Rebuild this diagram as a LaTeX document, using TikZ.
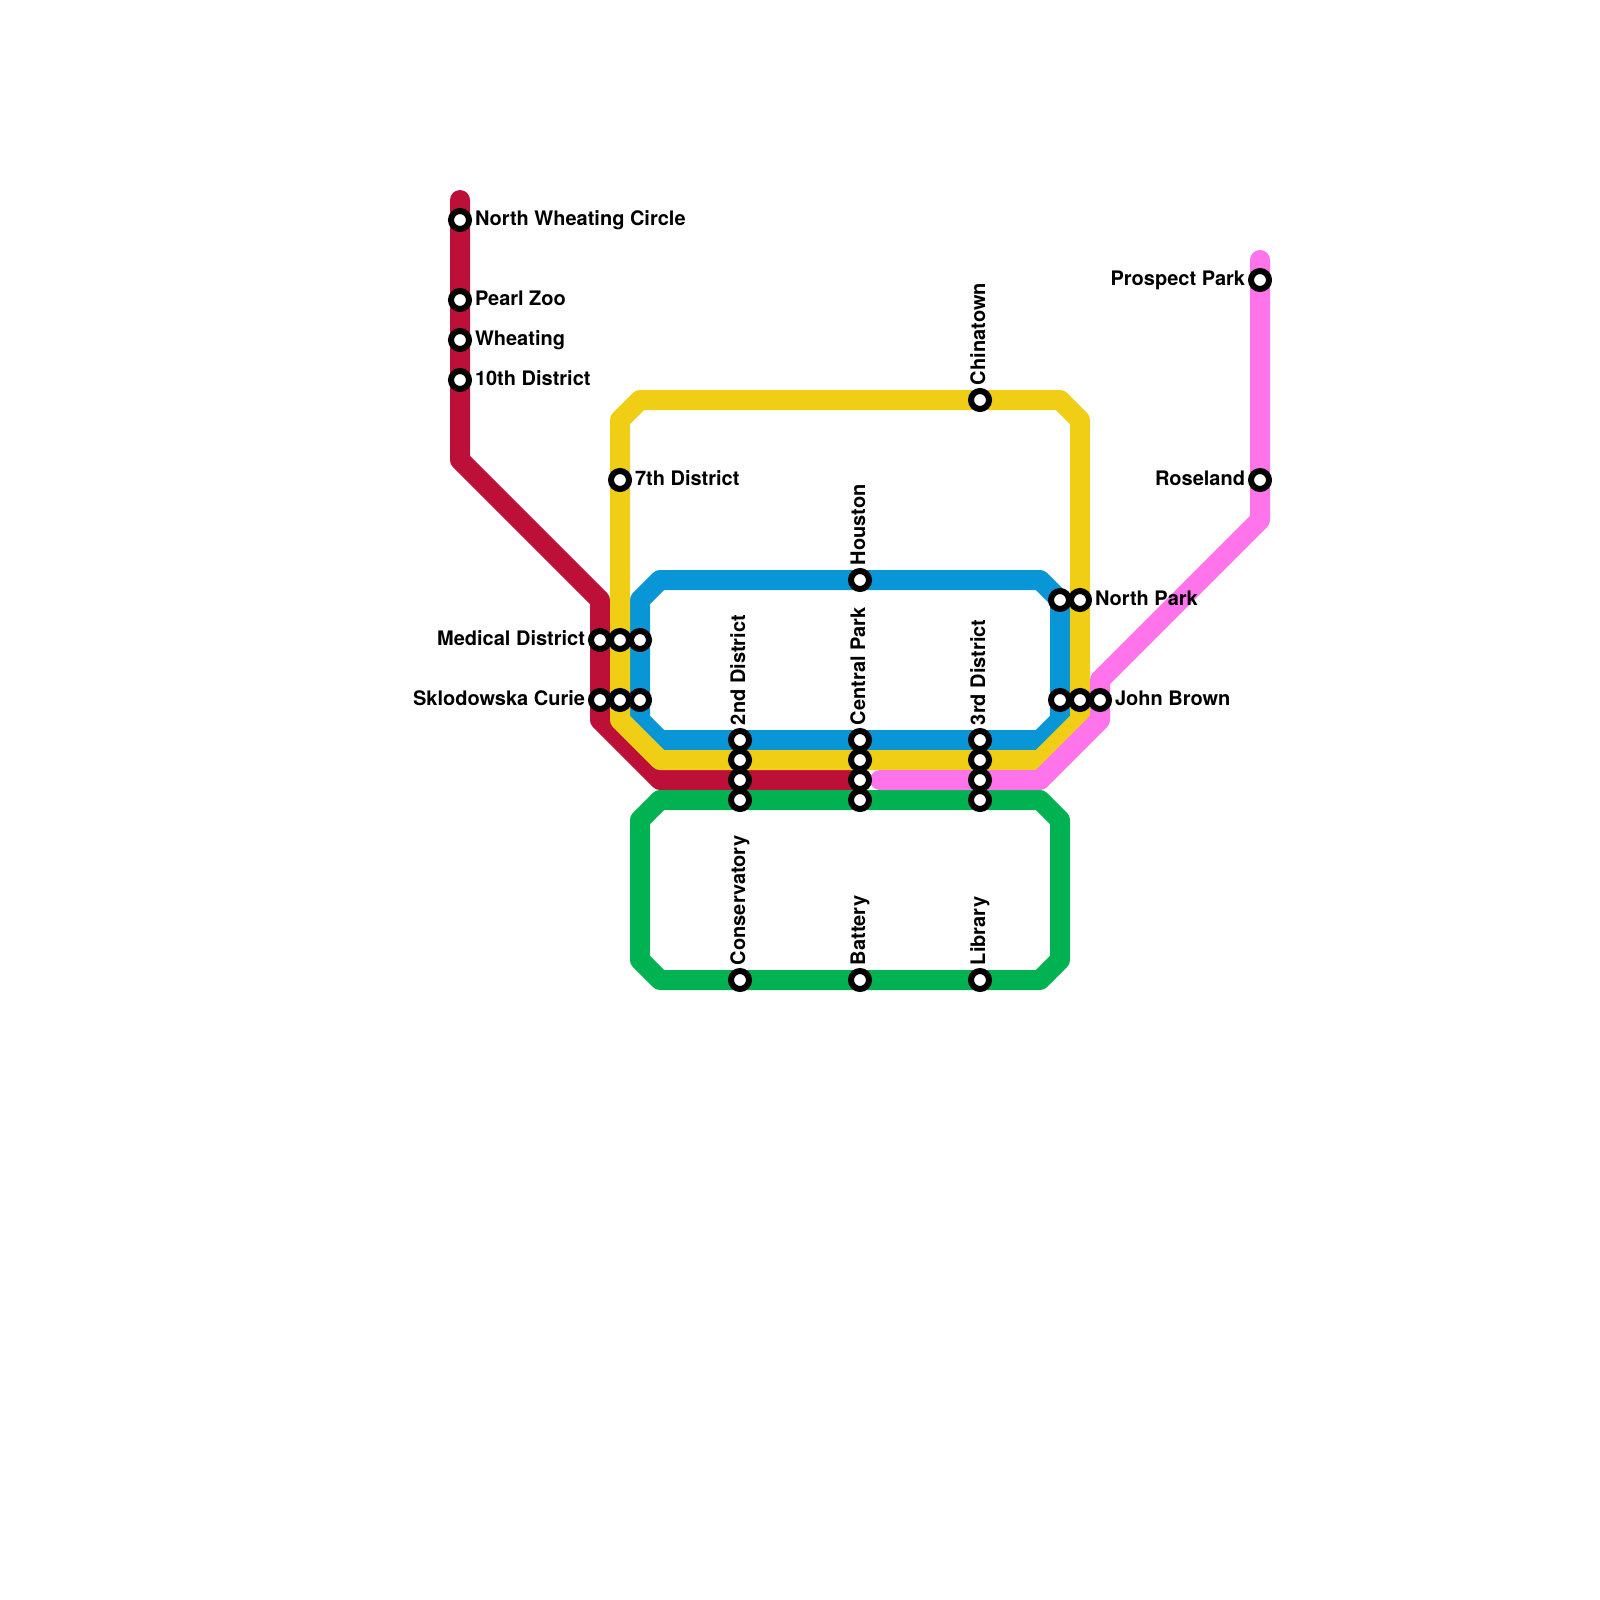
\documentclass[tikz,border=0pt]{standalone}
\usepackage{fontspec}
\setmainfont{TeX Gyre Heros}
\usetikzlibrary{backgrounds}
\definecolor{lnred}{HTML}{BD1038}
\definecolor{lnyellow}{HTML}{F0CE15}
\definecolor{lnblue}{HTML}{0896D7}
\definecolor{lnpink}{HTML}{FF73EB}
\definecolor{lngreen}{HTML}{00B251}
\tikzset{
  metro/.style={line width=10pt,line join=round,line cap=round},
  stn/.style={circle,draw=black,fill=white,line width=3pt,minimum size=9pt,inner sep=0pt,outer sep=0pt},
  lbl/.style={font=\fontsize{10}{12}\selectfont\bfseries,text=black,inner sep=0pt,outer sep=0pt},
  lblr/.style={lbl,anchor=base west},
  lbll/.style={lbl,anchor=base east},
  lblv/.style={lbl,anchor=base west,rotate=90}
}
\begin{document}
\begin{tikzpicture}[x=0.5pt,y=-0.5pt]
\useasboundingbox (0,0) rectangle (1600,1600);
% stations
\node[stn] (nwc) at (460,220) {};
\node[stn] (pearl) at (460,300) {};
\node[stn] (wheat) at (460,340) {};
\node[stn] (d10) at (460,380) {};
\node[stn] (d7) at (620,480) {};
\node[stn] (medr) at (600,640) {};
\node[stn] (medy) at (620,640) {};
\node[stn] (medb) at (640,640) {};
\node[stn] (skr) at (600,700) {};
\node[stn] (sky) at (620,700) {};
\node[stn] (skb) at (640,700) {};
\node[stn] (d2b) at (740,740) {};
\node[stn] (d2y) at (740,760) {};
\node[stn] (d2r) at (740,780) {};
\node[stn] (d2g) at (740,800) {};
\node[stn] (cpb) at (860,740) {};
\node[stn] (cpy) at (860,760) {};
\node[stn] (cpr) at (860,780) {};
\node[stn] (cpg) at (860,800) {};
\node[stn] (d3b) at (980,740) {};
\node[stn] (d3y) at (980,760) {};
\node[stn] (d3p) at (980,780) {};
\node[stn] (d3g) at (980,800) {};
\node[stn] (china) at (980,400) {};
\node[stn] (houst) at (860,580) {};
\node[stn] (npb) at (1060,600) {};
\node[stn] (npy) at (1080,600) {};
\node[stn] (jbb) at (1060,700) {};
\node[stn] (jby) at (1080,700) {};
\node[stn] (jbp) at (1100,700) {};
\node[stn] (cons) at (740,980) {};
\node[stn] (batt) at (860,980) {};
\node[stn] (lib) at (980,980) {};
\node[stn] (prosp) at (1260,280) {};
\node[stn] (rose) at (1260,480) {};
% labels
\node[lblr] (tnwc) at (475,225) {North Wheating Circle};
\node[lblr] (tpearl) at (475,305) {Pearl Zoo};
\node[lblr] (twheat) at (475,345) {Wheating};
\node[lblr] (td10) at (475,385) {10th District};
\node[lblr] (td7) at (635,485) {7th District};
\node[lblr] (tnp) at (1095,605) {North Park};
\node[lblr] (tjb) at (1115,705) {John Brown};
\node[lbll] (tmed) at (585,645) {Medical District};
\node[lbll] (tsk) at (585,705) {Sklodowska Curie};
\node[lbll] (tprosp) at (1245,285) {Prospect Park};
\node[lbll] (trose) at (1245,485) {Roseland};
\node[lblv] (tchina) at (985,385) {Chinatown};
\node[lblv] (thoust) at (865,565) {Houston};
\node[lblv] (td2) at (745,725) {2nd District};
\node[lblv] (tcp) at (865,725) {Central Park};
\node[lblv] (td3) at (985,725) {3rd District};
\node[lblv] (tcons) at (745,965) {Conservatory};
\node[lblv] (tbatt) at (865,965) {Battery};
\node[lblv] (tlib) at (985,965) {Library};
% lines
\begin{scope}[on background layer]
\coordinate (ra) at (460,200);
\coordinate (rb) at (460,460);
\coordinate (rc) at (600,600);
\coordinate (rd) at (600,720);
\coordinate (re) at (660,780);
\draw[metro,lnred] (ra) -- (nwc.center) -- (d10.center) -- (rb) -- (rc) -- (medr.center) -- (skr.center) -- (rd) -- (re) -- (d2r.center) -- (cpr.center);
\coordinate (ba) at (640,600);
\coordinate (bb) at (660,580);
\coordinate (bc) at (1040,580);
\coordinate (bd) at (1060,600);
\coordinate (be) at (1060,720);
\coordinate (bf) at (1040,740);
\coordinate (bg) at (660,740);
\coordinate (bh) at (640,720);
\draw[metro,lnblue] (ba) -- (bb) -- (houst.center) -- (bc) -- (npb.center) -- (jbb.center) -- (be) -- (bf) -- (d3b.center) -- (d2b.center) -- (bg) -- (bh) -- (skb.center) -- (medb.center) -- cycle;
\coordinate (ya) at (620,420);
\coordinate (yb) at (640,400);
\coordinate (yc) at (1060,400);
\coordinate (yd) at (1080,420);
\coordinate (ye) at (1080,720);
\coordinate (yf) at (1040,760);
\coordinate (yg) at (660,760);
\coordinate (yh) at (620,720);
\draw[metro,lnyellow] (ya) -- (yb) -- (china.center) -- (yc) -- (yd) -- (npy.center) -- (jby.center) -- (ye) -- (yf) -- (d3y.center) -- (d2y.center) -- (yg) -- (yh) -- (sky.center) -- (d7.center) -- cycle;
\coordinate (ga) at (640,820);
\coordinate (gb) at (660,800);
\coordinate (gc) at (1040,800);
\coordinate (gd) at (1060,820);
\coordinate (ge) at (1060,960);
\coordinate (gf) at (1040,980);
\coordinate (gg) at (660,980);
\coordinate (gh) at (640,960);
\draw[metro,lngreen] (ga) -- (gb) -- (d2g.center) -- (d3g.center) -- (gc) -- (gd) -- (ge) -- (gf) -- (lib.center) -- (cons.center) -- (gg) -- (gh) -- cycle;
\coordinate (pa) at (1260,260);
\coordinate (pb) at (1260,520);
\coordinate (pc) at (1100,680);
\coordinate (pd) at (1100,720);
\coordinate (pe) at (1040,780);
\coordinate (pf) at (880,780);
\draw[metro,lnpink] (pa) -- (prosp.center) -- (rose.center) -- (pb) -- (pc) -- (jbp.center) -- (pd) -- (pe) -- (d3p.center) -- (pf);
\end{scope}
\end{tikzpicture}
\end{document}
